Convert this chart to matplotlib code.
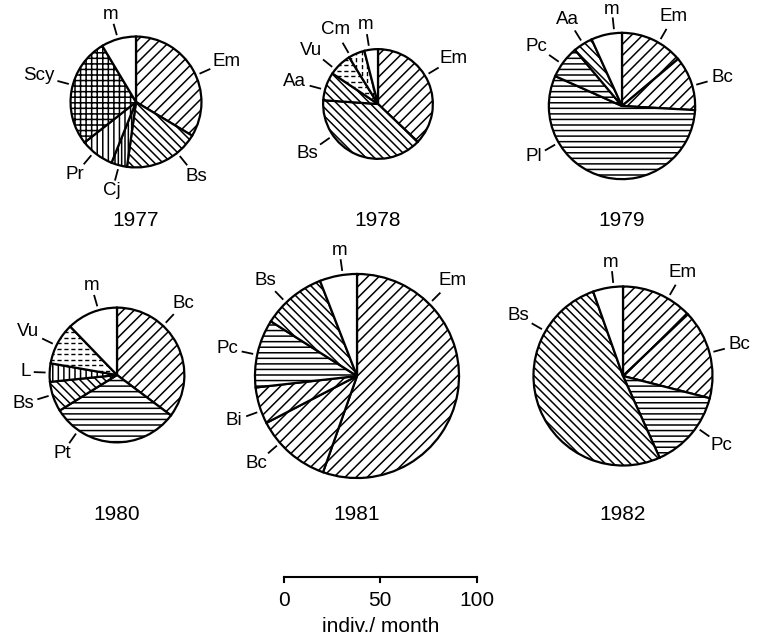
import numpy as np
import matplotlib
matplotlib.use("Agg")
import matplotlib.pyplot as plt

plt.rcParams["font.family"] = ["Liberation Sans", "DejaVu Sans"]
plt.rcParams["hatch.linewidth"] = 1.1
plt.rcParams["hatch.color"] = "black"

years = ["1977", "1978", "1979", "1980", "1981", "1982"]
# total catch per year (indiv./month) -> pie diameter on the scale bar
totals = [68, 57, 76, 70, 106, 93]

# share of each taxon (%), clockwise from 12 o'clock
taxa_1977 = ["Em", "Bs", "Cj", "Pr", "Scy", "m"]
share_1977 = [33.6, 18.6, 3.9, 8.3, 27.0, 8.6]
taxa_1978 = ["Em", "Bs", "Aa", "Vu", "Cm", "m"]
share_1978 = [37.1, 39.0, 8.3, 6.8, 4.8, 4.0]
taxa_1979 = ["Em", "Bc", "Pl", "Pc", "Aa", "m"]
share_1979 = [13.9, 12.0, 55.8, 7.2, 4.3, 6.8]
taxa_1980 = ["Bc", "Pt", "Bs", "L", "Vu", "m"]
share_1980 = [35.2, 30.9, 7.2, 4.4, 10.0, 12.2]
taxa_1981 = ["Em", "Bc", "Bi", "Pc", "Bs", "m"]
share_1981 = [55.4, 12.0, 5.8, 10.8, 10.1, 5.9]
taxa_1982 = ["Em", "Bc", "Pc", "Bs", "m"]
share_1982 = [12.9, 16.1, 14.3, 51.3, 5.4]

taxa = [taxa_1977, taxa_1978, taxa_1979, taxa_1980, taxa_1981, taxa_1982]
shares = [share_1977, share_1978, share_1979, share_1980, share_1981, share_1982]

# layout (pixels from top-left)
W, H = 770, 637
centers = [(136, 102), (378, 104), (622, 106), (117, 375), (357, 376), (623, 376)]
label_angles = [
    [24, -51, -105, -130, 165, 106],
    [31, -145, 165, 141, 120, 99],
    [60, 16, -150, 145, 122, 96],
    [47, -125, -163, 178, 154, 106],
    [45, -139, -160, 168, 134, 98],
    [60, 15, -35, 150, 96],
]
year_y = [220, 220, 220, 515, 515, 515]
px_per_unit = 1.925  # scale bar: 100 indiv./month

hatches = {
    "Em": "///", "Bc": "///", "Bi": "///", "Bs": "\\\\\\\\", "Aa": "\\\\\\\\",
    "Pl": "---", "Pc": "---", "Pt": "---", "Pr": "|||", "L": "|||",
    "Cj": "|||||", "Scy": "+++", "m": "", "Vu": "dash_h", "Cm": "dash_v",
}

fig = plt.figure(figsize=(7.7, 6.37), dpi=100)
ax = fig.add_axes([0, 0, 1, 1])


def dashed_hatch(wedge, cx, cy, r, vertical):
    for k in np.arange(-r, r + 1, 5.5):
        if vertical:
            xs, ys = [cx + k, cx + k], [cy - r, cy + r]
        else:
            xs, ys = [cx - r, cx + r], [cy + k, cy + k]
        ln, = ax.plot(xs, ys, color="black", lw=1.0, linestyle=(0, (3, 2)))
        ln.set_clip_path(wedge)


all_labels = []
for i in range(len(years)):
    cx, cy = centers[i][0], H - centers[i][1]
    r = totals[i] * px_per_unit / 2
    wedges, _ = ax.pie(shares[i], radius=r, center=(cx, cy), startangle=90,
                       counterclock=False,
                       wedgeprops=dict(facecolor="white", edgecolor="black",
                                       linewidth=1.6))
    for w, t in zip(wedges, taxa[i]):
        h = hatches[t]
        if h == "dash_h":
            dashed_hatch(w, cx, cy, r, False)
        elif h == "dash_v":
            dashed_hatch(w, cx, cy, r, True)
        elif h:
            w.set_hatch(h)
    for t, a in zip(taxa[i], label_angles[i]):
        all_labels.append((cx, cy, r, t, np.deg2rad(a)))
    ax.text(cx, H - year_y[i], years[i], ha="center", va="center", fontsize=15)

ax.set_xlim(0, W)
ax.set_ylim(0, H)
ax.set_aspect("auto")
ax.axis("off")

fig.canvas.draw()
renderer = fig.canvas.get_renderer()
for cx, cy, r, t, a in all_labels:
    ux, uy = np.cos(a), np.sin(a)
    ax.plot([cx + (r + 5) * ux, cx + (r + 15) * ux],
            [cy + (r + 5) * uy, cy + (r + 15) * uy], color="black", lw=1.3)
    txt = ax.text(0, 0, t, ha="center", va="center", fontsize=13.5)
    bb = txt.get_window_extent(renderer)
    d = abs(ux) * bb.width / 2 + abs(uy) * bb.height * 0.3
    px, py = cx + (r + 19 + d) * ux, cy + (r + 19 + d) * uy
    # keep the label inside the figure
    py = min(py, H - 1 - bb.height / 2)
    txt.set_position((px, py))

# scale bar
x0, ybar = 284, H - 577
ticks = [0, 50, 100]
ax.plot([x0, x0 + 100 * px_per_unit], [ybar, ybar], color="black", lw=1.5)
for v in ticks:
    xv = x0 + v * px_per_unit
    ax.plot([xv, xv], [ybar, ybar - 5], color="black", lw=1.5)
    ax.text(xv, H - 601, str(v), ha="center", va="center", fontsize=15)
ax.text(x0 + 50 * px_per_unit, H - 627, "indiv./ month", ha="center",
        va="center", fontsize=15)

fig.savefig("out.png", dpi=100)
